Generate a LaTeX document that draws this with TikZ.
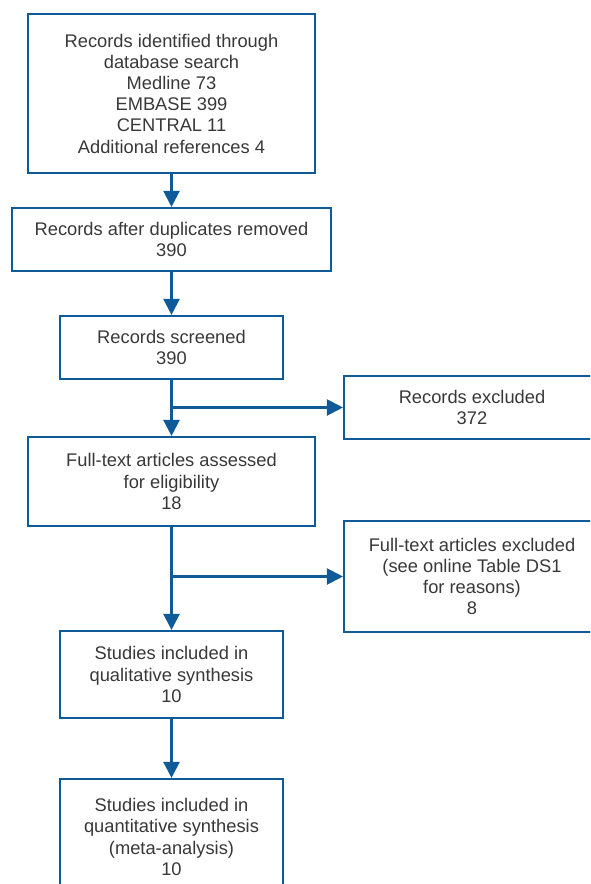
\documentclass[tikz,border=0pt]{standalone}
\usepackage{fontspec}
\setmainfont{Liberation Sans}
\usetikzlibrary{arrows.meta}
\definecolor{boxblue}{HTML}{0F5A99}
\definecolor{txt}{HTML}{383838}
\begin{document}
\begin{tikzpicture}[x=1pt,y=-1pt,
  box/.style={draw=boxblue, line width=2.1pt, rectangle, inner sep=0pt, align=center,
    text=txt, font=\fontsize{18.3}{21.2}\selectfont},
  arr/.style={draw=boxblue, line width=2.1pt, -{Triangle[length=16pt,width=16pt]}}]
\useasboundingbox (0,0) rectangle (590,884);
\clip (0,0) rectangle (590,884);
\node[box, minimum width=287pt, minimum height=159pt] (b1) at (171.5,93.5)
  {Records identified through\\database search\\Medline 73\\EMBASE 399\\CENTRAL 11\\Additional references 4};
\node[box, minimum width=319pt, minimum height=63pt] (b2) at (171.5,239.5)
  {Records after duplicates removed\\390};
\node[box, minimum width=223pt, minimum height=63pt] (b3) at (171.5,347.5)
  {Records screened\\390};
\node[box, minimum width=256pt, minimum height=63pt] (e1) at (472,407.5)
  {Records excluded\\372};
\node[box, minimum width=287pt, minimum height=89pt] (b4) at (171.5,481.5)
  {Full-text articles assessed\\for eligibility\\18};
\node[box, minimum width=256pt, minimum height=111pt] (e2) at (472,576.5)
  {Full-text articles excluded\\(see online Table DS1\\for reasons)\\8};
\node[box, minimum width=223pt, minimum height=87pt] (b5) at (171.5,674.5)
  {Studies included in\\qualitative synthesis\\10};
\node[box, minimum width=223pt, minimum height=116pt] (b6) at (171.5,837)
  {Studies included in\\quantitative synthesis\\(meta-analysis)\\10};
\draw[arr] (b1) -- (b2);
\draw[arr] (b2) -- (b3);
\draw[arr] (b3) -- (b4);
\draw[arr] (b3.south |- e1.west) -- (e1.west);
\draw[arr] (b4) -- (b5);
\draw[arr] (b4.south |- e2.west) -- (e2.west);
\draw[arr] (b5) -- (b6);
\end{tikzpicture}
\end{document}
